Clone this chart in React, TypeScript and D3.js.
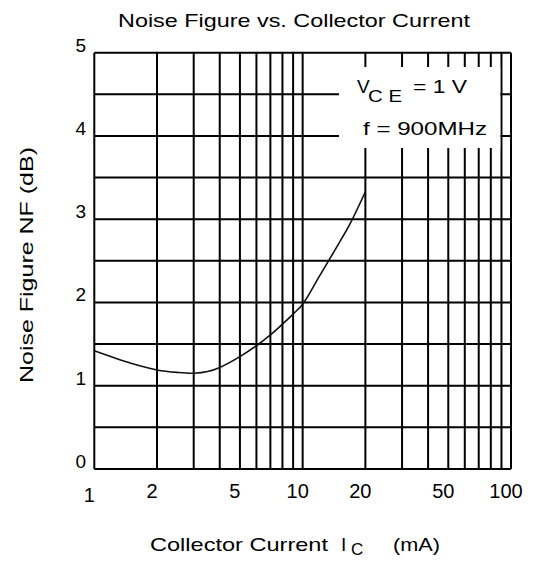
//@ts-nocheck
import React, { useEffect, useRef } from "react";
import * as d3 from "d3";

// collector current (mA) vs noise figure (dB)
const currentMA = [1, 1.5, 2, 2.5, 3, 3.5, 4, 5, 6, 7, 8, 9, 10, 12, 15, 17, 20];
const noiseDB = [1.42, 1.27, 1.19, 1.16, 1.15, 1.17, 1.22, 1.35, 1.48, 1.61, 1.74, 1.86, 1.98, 2.31, 2.72, 2.96, 3.33];

const xTickLabels = [1, 2, 5, 10, 20, 50, 100];
const yTickLabels = [0, 1, 2, 3, 4, 5];
const yGrid = [0, 0.5, 1, 1.5, 2, 2.5, 3, 3.5, 4, 4.5, 5];
const xGrid = d3.range(1, 10).concat(d3.range(10, 101, 10));

const FONT = "'Liberation Sans', Arial, sans-serif";

export default function App() {
  const ref = useRef<SVGSVGElement>(null);

  useEffect(() => {
    const svg = d3.select(ref.current);
    svg.selectAll("*").remove();

    const left = 94.3, right = 511, top = 52.7, bottom = 469;
    const x = d3.scaleLog().domain([1, 100]).range([left, right]);
    const y = d3.scaleLinear().domain([0, 5]).range([bottom, top]);

    const g = svg.append("g");

    // grid
    g.selectAll("line.v")
      .data(xGrid)
      .join("line")
      .attr("x1", (d) => x(d))
      .attr("x2", (d) => x(d))
      .attr("y1", top)
      .attr("y2", bottom)
      .attr("stroke", "#000")
      .attr("stroke-width", 2);

    g.selectAll("line.h")
      .data(yGrid)
      .join("line")
      .attr("x1", left)
      .attr("x2", right)
      .attr("y1", (d) => y(d))
      .attr("y2", (d) => y(d))
      .attr("stroke", "#000")
      .attr("stroke-width", 2);

    // legend box knocks out the grid
    g.append("rect")
      .attr("x", 339)
      .attr("y", 67)
      .attr("width", x(90) - 1.2 - 339)
      .attr("height", 81)
      .attr("fill", "#fff");

    // curve
    const line = d3
      .line()
      .x((d) => x(d[0]))
      .y((d) => y(d[1]))
      .curve(d3.curveCatmullRom.alpha(0.5));
    g.append("path")
      .datum(currentMA.map((c, i) => [c, noiseDB[i]]))
      .attr("d", line)
      .attr("fill", "none")
      .attr("stroke", "#111")
      .attr("stroke-width", 1.6);

    // tick labels
    svg.selectAll("text.xt")
      .data(xTickLabels)
      .join("text")
      .attr("x", (d) => x(d) - 5)
      .attr("y", (d) => (d === 1 ? 502 : 498))
      .attr("text-anchor", "middle")
      .attr("font-family", FONT)
      .attr("font-size", 20)
      .text((d) => d);

    svg.selectAll("text.yt")
      .data(yTickLabels)
      .join("text")
      .attr("x", 86)
      .attr("y", (d) => y(d) - 1)
      .attr("text-anchor", "end")
      .attr("font-family", FONT)
      .attr("font-size", 19)
      .text((d) => d);

    // title
    svg.append("text")
      .attr("x", 118)
      .attr("y", 27)
      .attr("font-family", FONT)
      .attr("font-size", 19)
      .attr("textLength", 352)
      .attr("lengthAdjust", "spacingAndGlyphs")
      .text("Noise Figure vs. Collector Current");

    // axis titles
    const xt = svg.append("text")
      .attr("y", 551)
      .attr("font-family", FONT)
      .attr("font-size", 19);
    xt.append("tspan").attr("x", 150).attr("textLength", 178).attr("lengthAdjust", "spacingAndGlyphs").text("Collector Current");
    xt.append("tspan").attr("x", 341).text("I");
    xt.append("tspan").attr("x", 351).attr("dy", 4).attr("font-size", 17).text("C");
    xt.append("tspan").attr("x", 393).attr("dy", -4).attr("textLength", 47).attr("lengthAdjust", "spacingAndGlyphs").text("(mA)");

    svg.append("text")
      .attr("transform", "translate(33,383) rotate(-90)")
      .attr("font-family", FONT)
      .attr("font-size", 19)
      .attr("textLength", 236)
      .attr("lengthAdjust", "spacingAndGlyphs")
      .text("Noise Figure  NF  (dB)");

    // legend text
    const l1 = svg.append("text").attr("y", 93).attr("font-family", FONT).attr("font-size", 19);
    l1.append("tspan").attr("x", 357).text("V");
    l1.append("tspan").attr("x", 368).attr("dy", 9).attr("font-size", 17).attr("textLength", 34).attr("lengthAdjust", "spacingAndGlyphs").text("C E");
    l1.append("tspan").attr("x", 413).attr("dy", -9).attr("textLength", 54).attr("lengthAdjust", "spacingAndGlyphs").text("= 1 V");

    svg.append("text")
      .attr("x", 363)
      .attr("y", 135)
      .attr("font-family", FONT)
      .attr("font-size", 19)
      .attr("textLength", 124)
      .attr("lengthAdjust", "spacingAndGlyphs")
      .text("f = 900MHz");
  }, []);

  return (
    <svg
      ref={ref}
      width={539}
      height={568}
      style={{ position: "absolute", left: 0, top: 0, background: "#fff" }}
    />
  );
}
